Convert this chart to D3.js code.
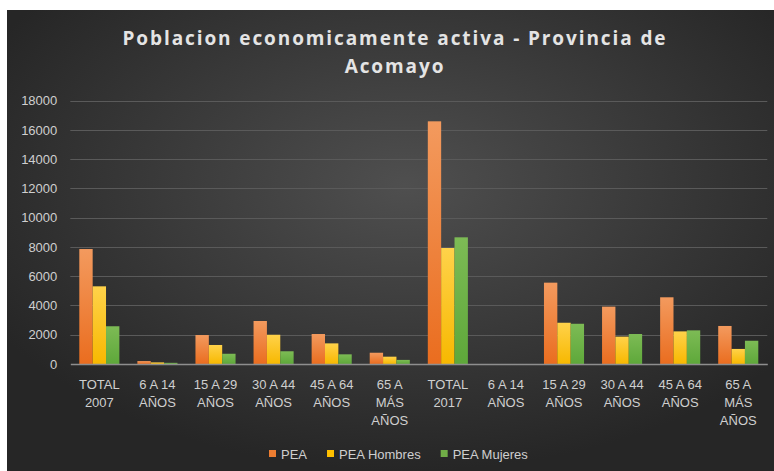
<!DOCTYPE html>
<html>
<head>
<meta charset="utf-8">
<script src="https://cdnjs.cloudflare.com/ajax/libs/d3/7.8.5/d3.min.js"></script>
<style>
  html, body { margin: 0; padding: 0; background: #ffffff; }
  .chart { width: 774px; height: 471px; }
</style>
</head>
<body>
<div class="chart"></div>
<script>
// Categories (each label line separated by \n)
var categories = [
  "TOTAL\n2007", "6 A 14\nAÑOS", "15 A 29\nAÑOS", "30 A 44\nAÑOS", "45 A 64\nAÑOS", "65 A\nMÁS\nAÑOS",
  "TOTAL\n2017", "6 A 14\nAÑOS", "15 A 29\nAÑOS", "30 A 44\nAÑOS", "45 A 64\nAÑOS", "65 A\nMÁS\nAÑOS"
];
var seriesNames = ["PEA", "PEA Hombres", "PEA Mujeres"];
var pea        = [7860, 200, 1980, 2940, 2050, 770, 16590, 0, 5560, 3920, 4560, 2600];
var peaHombres = [5310, 110, 1300, 2000, 1410, 500, 7930, 0, 2820, 1870, 2230, 1030];
var peaMujeres = [2580,  80,  700,  870,  660, 280, 8660, 0, 2750, 2050, 2300, 1590];
var yTicks = [0, 2000, 4000, 6000, 8000, 10000, 12000, 14000, 16000, 18000];
var titleLines = ["Poblacion economicamente activa - Provincia de", "Acomayo"];

drawChart(d3.select(".chart"));

function drawChart(divElement) {
  var width = 774, height = 471;
  // Panel and plot area
  var panel = { left: 7, top: 10, right: 774, bottom: 471 };
  var plot = { left: 70.3, right: 767.3, top: 100.7, bottom: 364 };

  var svg = divElement.append("svg")
    .attr("width", width)
    .attr("height", height)
    .style("display", "block");

  var defs = svg.append("defs");

  // Dark radial background like the office theme
  var bg = defs.append("radialGradient")
    .attr("id", "bg")
    .attr("cx", "52%").attr("cy", "38%").attr("r", "62%");
  bg.append("stop").attr("offset", "0%").attr("stop-color", "#4f4f4f");
  bg.append("stop").attr("offset", "100%").attr("stop-color", "#262626");

  // Bar gradients: lighter on top
  var colors = [
    ["#f39a5e", "#ea6d1f"],
    ["#ffd24a", "#f7b800"],
    ["#7dbb55", "#5ea83a"]
  ];
  colors.forEach(function(c, i) {
    var g = defs.append("linearGradient")
      .attr("id", "bar" + i)
      .attr("x1", 0).attr("y1", 0).attr("x2", 0).attr("y2", 1);
    g.append("stop").attr("offset", "0%").attr("stop-color", c[0]);
    g.append("stop").attr("offset", "100%").attr("stop-color", c[1]);
  });
  var legendColors = ["#ed7d31", "#ffc000", "#70ad47"];

  svg.append("rect")
    .attr("x", panel.left)
    .attr("y", panel.top)
    .attr("width", panel.right - panel.left)
    .attr("height", panel.bottom - panel.top)
    .attr("fill", "url(#bg)");

  // Title; the letter spacing is stretched so the first line spans ~545px
  var title = svg.append("g")
    .attr("font-family", "'Open Sans', sans-serif")
    .attr("font-weight", "bold")
    .attr("font-size", 19)
    .attr("fill", "#e4e4e4")
    .attr("text-anchor", "middle");
  var titleText = title.selectAll("text")
    .data(titleLines)
    .enter()
    .append("text")
    .attr("x", 395)
    .attr("y", function(d, i) { return 45 + i * 28; })
    .text(function(d) { return d; });
  var firstLen = titleText.node().getComputedTextLength();
  var spacing = (545 - firstLen) / titleLines[0].length;
  titleText.style("letter-spacing", spacing + "px");

  // Scales
  var x0 = d3.scaleBand()
    .domain(d3.range(categories.length))
    .range([plot.left, plot.right])
    .paddingInner(0.31)
    .paddingOuter(0.155);
  var x1 = d3.scaleBand()
    .domain(d3.range(seriesNames.length))
    .range([0, x0.bandwidth()]);
  var yScale = d3.scaleLinear()
    .domain([0, 18000])
    .range([plot.bottom, plot.top]);

  // Gridlines
  svg.append("g")
    .selectAll("line")
    .data(yTicks.slice(1))
    .enter()
    .append("line")
    .attr("x1", plot.left)
    .attr("x2", plot.right)
    .attr("y1", function(d) { return Math.round(yScale(d)) + 0.5; })
    .attr("y2", function(d) { return Math.round(yScale(d)) + 0.5; })
    .attr("stroke", "#5a5a5a")
    .attr("stroke-width", 1);

  // Y axis labels
  var yAxis = d3.axisLeft(yScale)
    .tickValues(yTicks)
    .tickSize(0)
    .tickPadding(13)
    .tickFormat(d3.format("d"));
  var yG = svg.append("g")
    .attr("transform", "translate(" + plot.left + ",0)")
    .call(yAxis);
  yG.select(".domain").remove();
  yG.selectAll("text")
    .attr("fill", "#cfcfcf")
    .attr("font-family", "'Liberation Sans', Arial, sans-serif")
    .attr("font-size", 13);

  // Bars
  var seriesData = [pea, peaHombres, peaMujeres];
  var groups = svg.append("g")
    .selectAll("g")
    .data(categories)
    .enter()
    .append("g")
    .attr("transform", function(d, i) { return "translate(" + x0(i) + ",0)"; });
  groups.selectAll("rect")
    .data(function(d, i) { return seriesData.map(function(s, k) { return { k: k, v: s[i] }; }); })
    .enter()
    .append("rect")
    .attr("x", function(d) { return x1(d.k); })
    .attr("width", x1.bandwidth())
    .attr("y", function(d) { return yScale(d.v); })
    .attr("height", function(d) { return plot.bottom - yScale(d.v); })
    .attr("fill", function(d) { return "url(#bar" + d.k + ")"; });

  // X axis
  var xAxis = d3.axisBottom(x0)
    .tickSize(0)
    .tickFormat("");
  var xG = svg.append("g")
    .attr("transform", "translate(0," + plot.bottom + ")")
    .call(xAxis);
  xG.select(".domain")
    .attr("stroke", "#8e8e8e")
    .attr("stroke-width", 1.5);

  // Multi-line category labels
  xG.selectAll(".tick")
    .append("text")
    .attr("fill", "#cfcfcf")
    .attr("font-family", "'Liberation Sans', Arial, sans-serif")
    .attr("font-size", 13)
    .attr("text-anchor", "middle")
    .each(function(i) {
      var lines = categories[i].split("\n");
      var t = d3.select(this);
      lines.forEach(function(line, j) {
        t.append("tspan")
          .attr("x", 0)
          .attr("y", 25 + j * 18)
          .text(line);
      });
    });

  // Legend
  var legend = svg.append("g")
    .attr("font-family", "'Liberation Sans', Arial, sans-serif")
    .attr("font-size", 13)
    .attr("fill", "#cfcfcf");
  var lx = 269;
  seriesNames.forEach(function(name, i) {
    legend.append("rect")
      .attr("x", lx)
      .attr("y", 450)
      .attr("width", 7)
      .attr("height", 7)
      .attr("fill", legendColors[i]);
    var t = legend.append("text")
      .attr("x", lx + 12)
      .attr("y", 458.5)
      .text(name);
    lx += 12 + t.node().getComputedTextLength() + 20;
  });
}
</script>
</body>
</html>
